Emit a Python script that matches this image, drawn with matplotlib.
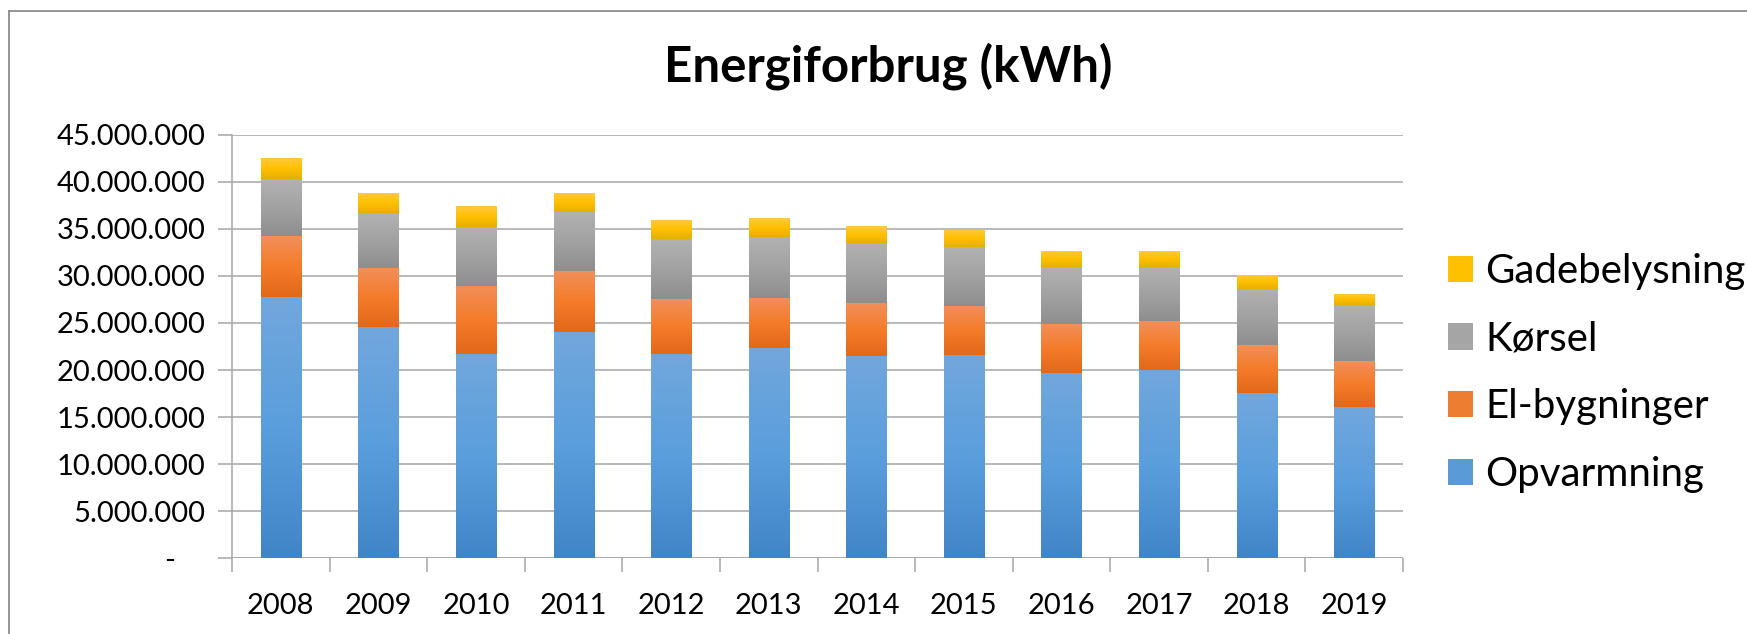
import numpy as np
import matplotlib
matplotlib.use("Agg")
import matplotlib.pyplot as plt
from matplotlib.colors import LinearSegmentedColormap
from matplotlib.patches import Patch
from matplotlib.ticker import FuncFormatter, MultipleLocator
from matplotlib.lines import Line2D

years = ["2008", "2009", "2010", "2011", "2012", "2013",
         "2014", "2015", "2016", "2017", "2018", "2019"]
opvarmning = [27.76, 24.57, 21.71, 24.08, 21.71, 22.34, 21.53, 21.60, 19.69, 20.04, 17.56, 16.08]
el_bygninger = [6.48, 6.31, 7.26, 6.44, 5.84, 5.32, 5.59, 5.24, 5.24, 5.17, 5.10, 4.88]
koersel = [6.02, 5.81, 6.23, 6.31, 6.37, 6.48, 6.38, 6.23, 6.02, 5.74, 5.95, 5.95]
gadebelysning = [2.27, 2.12, 2.23, 1.98, 2.02, 2.01, 1.80, 1.85, 1.70, 1.70, 1.49, 1.17]
series_names = ["Opvarmning", "El-bygninger", "Kørsel", "Gadebelysning"]
title = "Energiforbrug (kWh)"

series = [np.array(opvarmning) * 1e6, np.array(el_bygninger) * 1e6,
          np.array(koersel) * 1e6, np.array(gadebelysning) * 1e6]
# gradient colours: bottom -> top
grads = [
    ["#4085C6", "#5A9EDD", "#72A7DC"],
    ["#E2681A", "#F47C2A", "#F18F5A"],
    ["#8E8E8E", "#A2A2A2", "#B2B2B2"],
    ["#E6B000", "#FFC000", "#FFC942"],
]
solid = ["#5B9BD5", "#ED7D31", "#A5A5A5", "#FFC000"]

plt.rcParams['font.family'] = ['Lato', 'DejaVu Sans']

W, H = 1747, 634
fig = plt.figure(figsize=(W / 100, H / 100), dpi=100)
fig.patch.set_facecolor("white")

L, R, T, B = 232, 1403, 134.7, 558.3
ax = fig.add_axes([L / W, (H - B) / H, (R - L) / W, (B - T) / H])

x = np.arange(len(years))
bottom = np.zeros(len(years))
for vals, g in zip(series, grads):
    bars = ax.bar(x, vals, width=0.41, bottom=bottom, color="none", edgecolor="none", zorder=2)
    cmap = LinearSegmentedColormap.from_list("g", g)
    grad = np.linspace(0, 1, 256).reshape(-1, 1)
    for b in bars:
        x0, y0 = b.get_x(), b.get_y()
        w, h = b.get_width(), b.get_height()
        im = ax.imshow(grad, cmap=cmap, origin="lower", aspect="auto",
                       extent=[x0, x0 + w, y0, y0 + h], zorder=2, interpolation="bilinear")
        im.set_clip_path(b)
    bottom = bottom + vals

ax.set_xlim(-0.5, len(years) - 0.5)
ax.set_ylim(0, 45e6)
ax.yaxis.set_major_locator(MultipleLocator(5e6))

def fmt(v, pos):
    if abs(v) < 1:
        return "-    "
    return f"{int(round(v)):,}".replace(",", ".")
ax.yaxis.set_major_formatter(FuncFormatter(fmt))

grid_c = "#A6A6A6"
ax.grid(axis="y", color=grid_c, linewidth=1.1, zorder=0)
ax.set_axisbelow(True)
for s in ["top", "right", "bottom"]:
    ax.spines[s].set_visible(False)
ax.spines["left"].set_color(grid_c)
ax.spines["left"].set_linewidth(1.1)
ax.axhline(0, color=grid_c, linewidth=1.1, zorder=1)

ax.set_xticks(x)
ax.set_xticklabels(years)
ax.tick_params(axis="x", length=0, pad=25, labelsize=21)
ax.set_xticks(np.arange(-0.5, len(years), 1.0), minor=True)
ax.tick_params(axis="x", which="minor", length=10, color=grid_c, width=1.1, direction="out")
ax.tick_params(axis="y", length=10, color=grid_c, width=1.1, pad=9, labelsize=21)
for lab in ax.get_xticklabels() + ax.get_yticklabels():
    lab.set_color("#000000")

fig.text(888 / W, 1 - 66 / H, title, ha="center", va="center",
         fontsize=35.5, fontweight="bold")

handles = [Patch(facecolor=solid[i], edgecolor="none", label=series_names[i]) for i in [3, 2, 1, 0]]
leg = fig.legend(handles=handles, loc="center left",
                 bbox_to_anchor=(1448 / W, 1 - 373 / H), frameon=False,
                 fontsize=29, handlelength=0.62, handleheight=0.62,
                 handletextpad=0.3, labelspacing=0.76, borderaxespad=0, borderpad=0)

# chart border (left and top)
fig.add_artist(Line2D([9 / W, 9 / W], [0, 1 - 11 / H], transform=fig.transFigure,
                      color="#8C8C8C", linewidth=1.3))
fig.add_artist(Line2D([9 / W, 1], [1 - 11 / H, 1 - 11 / H], transform=fig.transFigure,
                      color="#8C8C8C", linewidth=1.3))

fig.savefig("out.png", dpi=100, facecolor="white")
